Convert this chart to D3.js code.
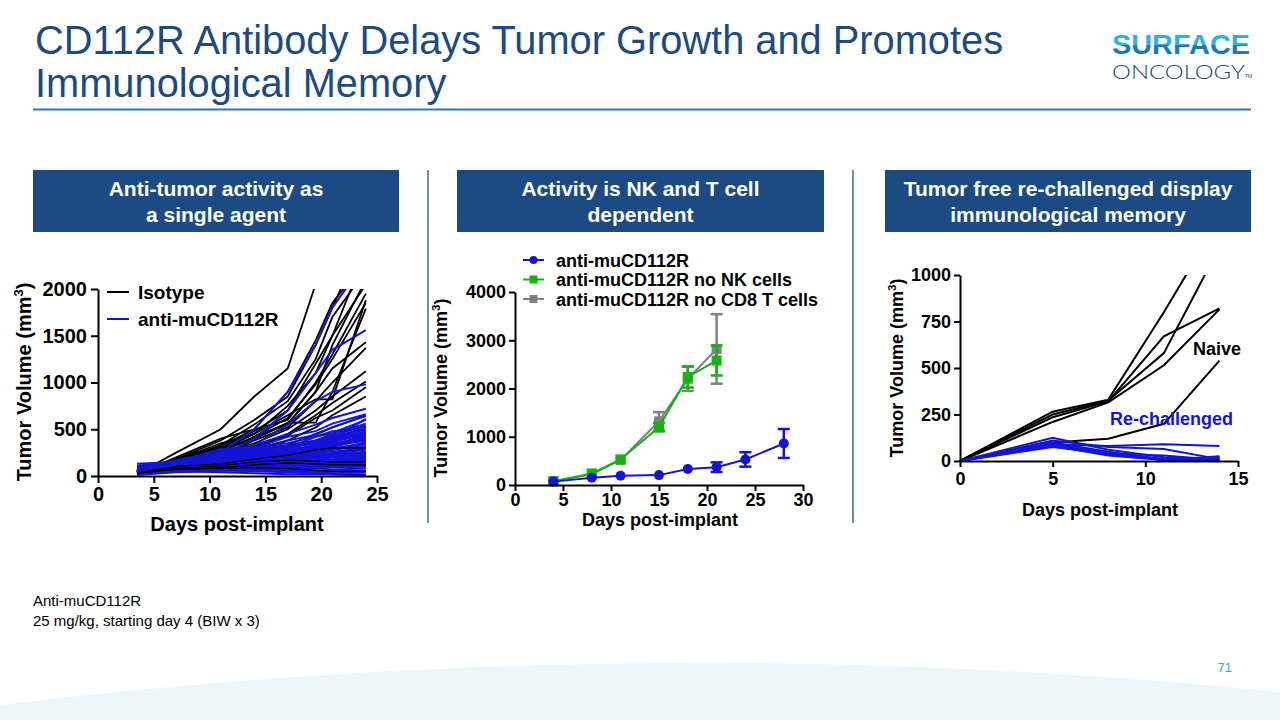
<!DOCTYPE html>
<html><head><meta charset="utf-8">
<script src="https://cdn.jsdelivr.net/npm/d3@7"></script>
<style>
html,body{margin:0;padding:0;background:#fff;}
svg{display:block;font-family:"Liberation Sans",Arial,sans-serif;}
</style></head>
<body>
<svg id="chart" width="1280" height="720"></svg>
<script>
// ---------------- DATA ----------------
const titleLines = ["CD112R Antibody Delays Tumor Growth and Promotes", "Immunological Memory"];
const panelTitles = [["Anti-tumor activity as", "a single agent"], ["Activity is NK and T cell", "dependent"], ["Tumor free re-challenged display", "immunological memory"]];
const footnote = ["Anti-muCD112R", "25 mg/kg, starting day 4 (BIW x 3)"];
const pageNumber = "71";

// Panel 1: individual tumour growth (spaghetti)
const p1Days = [3.5, 5, 7, 11, 14, 17, 19.5, 21, 24];
const p1XTicks = [0, 5, 10, 15, 20, 25];
const p1YTicks = [0, 500, 1000, 1500, 2000];
const isotypeLines = [
  [60,120,250,500,850,1150,2050,null,null],
  [50,110,180,380,600,850,1400,1800,2600],
  [55,100,160,300,480,700,1200,1500,2400],
  [45,90,150,330,550,800,1250,1700,2200],
  [50,100,200,400,500,600,1000,1300,1950],
  [40,95,170,350,450,650,820,820,1880],
  [45,85,140,270,400,570,570,900,1790],
  [50,90,150,250,420,560,900,1150,1430],
  [40,80,130,220,380,520,800,1000,1370],
  [35,75,120,240,350,500,700,850,1120],
  [45,85,130,200,300,450,650,780,1010],
  [40,70,120,210,320,430,620,700,950],
  [35,80,110,190,290,380,520,650,850],
  [30,70,100,170,250,330,450,520,650],
  [40,75,110,160,220,300,380,420,500],
  [30,60,90,140,200,250,320,380,450],
  [35,65,100,130,180,220,280,300,300],
  [30,60,80,110,150,170,160,150,150],
  [25,55,70,90,120,140,130,120,120],
  [30,50,70,80,90,80,60,50,50],
  [40,90,160,300,400,560,900,1400,2100],
  [45,95,180,320,500,900,1450,1850,2300],
  [50,100,150,280,450,750,1100,1500,2050],
  [35,80,140,260,420,620,980,1250,1850]
];
const treatedLines = [
  [60,110,150,250,500,900,1400,1800,2300],
  [50,100,140,220,400,700,1100,1350,1560],
  [40,90,130,200,330,550,800,900,980],
  [50,100,140,230,330,450,550,620,720],
  [40,80,120,260,300,420,480,560,660],
  [30,70,110,180,250,380,440,520,640],
  [45,90,130,170,230,300,420,460,600],
  [35,80,120,150,200,280,380,430,540],
  [50,95,140,290,310,350,420,480,520],
  [40,85,110,140,180,240,330,400,500],
  [30,70,100,130,170,220,300,380,480],
  [45,85,120,160,200,250,310,360,450],
  [35,75,100,130,160,200,280,340,420],
  [25,60,90,120,150,180,250,310,400],
  [40,80,110,150,190,230,270,320,380],
  [30,70,100,140,170,210,240,290,350],
  [50,90,120,170,200,220,250,280,320],
  [20,60,90,120,140,170,200,240,300],
  [35,75,100,130,150,180,210,240,280],
  [45,85,110,140,160,170,190,220,250],
  [25,55,80,100,120,150,170,200,220],
  [40,70,100,120,140,150,160,180,200],
  [30,65,90,110,120,130,140,160,180],
  [50,90,120,150,160,170,150,140,150],
  [20,50,70,90,100,110,120,130,120],
  [35,60,80,100,110,100,90,90,100],
  [45,80,100,110,100,90,80,70,80],
  [25,50,60,70,60,50,40,50,60],
  [30,55,70,60,50,40,30,30,40],
  [20,40,50,40,30,20,20,20,20],
  [40,70,90,80,70,60,50,30,10],
  [55,95,130,120,100,70,40,20,5],
  [60,110,150,180,210,260,300,350,380],
  [45,100,160,280,300,320,340,400,470],
  [35,90,140,200,260,300,360,420,500],
  [50,120,170,250,290,330,380,450,560],
  [40,100,150,220,270,310,350,400,430],
  [55,110,160,240,280,250,230,260,300],
  [30,70,130,180,200,210,220,230,240],
  [50,130,140,160,180,190,200,210,230],
  [130,140,150,170,190,220,260,300,340],
  [100,120,140,160,180,200,240,280,360],
  [70,100,120,130,140,150,160,170,190],
  [80,110,130,150,170,190,210,230,260],
  [90,120,140,150,160,180,200,220,240],
  [110,130,150,160,170,180,190,200,210],
  [60,80,100,110,120,130,140,150,160],
  [20,40,60,80,100,120,140,160,170],
  [15,30,45,60,80,100,110,120,130],
  [10,25,40,55,70,80,90,100,110],
  [75,105,125,140,150,140,130,120,110],
  [85,115,135,160,190,230,270,330,410],
  [65,95,130,190,230,270,320,380,460],
  [95,125,150,200,240,280,330,390,530],
  [50,80,110,150,200,260,320,400,610],
  [40,75,105,140,170,210,260,330,440],
  [30,45,55,65,75,85,95,105,115]
];
const p1Legend = ["Isotype", "anti-muCD112R"];

// Panel 2: group means +/- SEM
const p2XTicks = [0, 5, 10, 15, 20, 25, 30];
const p2YTicks = [0, 1000, 2000, 3000, 4000];
const p2Names = ["anti-muCD112R", "anti-muCD112R no NK cells", "anti-muCD112R no CD8 T cells"];
const p2DaysBlue = [4, 8, 11, 15, 18, 21, 24, 28];
const p2MeanBlue = [70, 150, 190, 205, 330, 370, 530, 860];
const p2ErrBlue  = [10, 15, 20, 25, 40, 100, 150, 300];
const p2DaysGreen = [4, 8, 11, 15, 18, 21];
const p2MeanGreen = [80, 240, 530, 1200, 2240, 2580];
const p2ErrGreen  = [10, 30, 50, 90, 220, 310];
const p2DaysGray = [4, 8, 11, 15, 18, 21];
const p2MeanGray = [75, 220, 520, 1320, 2200, 2820];
const p2ErrGray  = [10, 30, 50, 190, 250, 720];

// Panel 3: re-challenge
const p3Days = [0, 5, 8, 11, 14];
const p3XTicks = [0, 5, 10, 15];
const p3YTicks = [0, 250, 500, 750, 1000];
const naiveLines = [
  [0,265,330,800,1300],
  [0,250,325,580,1150],
  [0,235,320,670,820],
  [0,210,315,515,815],
  [0,100,120,200,540]
];
const rechallengedLines = [
  [0,90,80,90,80],
  [0,110,75,65,10],
  [0,100,50,10,20],
  [0,90,35,5,25],
  [0,80,30,5,5],
  [0,125,60,20,10],
  [0,95,40,10,15],
  [0,75,40,30,5]
];
const p3Labels = ["Naive", "Re-challenged"];

// ---------------- DRAW ----------------
const svg = d3.select("#chart");
const FONT = "'Liberation Sans', Arial, sans-serif";
const NAVY = "#1c4a82";
const BLUE = "#1414d8";
const GREEN = "#12b312";
const GRAY = "#808080";
const fmt = d3.format("d");

// footer wave
svg.append("path")
  .attr("d", "M0,705 Q640,628 1280,692 L1280,720 L0,720 Z")
  .attr("fill", "#edf7fb");

// title
svg.selectAll("text.title").data(titleLines).join("text")
  .attr("class", "title")
  .attr("x", 35).attr("y", (d, i) => 54 + i * 43)
  .attr("fill", NAVY).attr("font-size", 39.8).attr("font-family", FONT)
  .text(d => d);
svg.append("line").attr("x1", 33).attr("x2", 1251).attr("y1", 109.5).attr("y2", 109.5)
  .attr("stroke", "#2f77b0").attr("stroke-width", 2);

// logo
const defs = svg.append("defs");
const lg = defs.append("linearGradient").attr("id", "logoGrad").attr("x1", 0).attr("x2", 0).attr("y1", 0).attr("y2", 1);
lg.append("stop").attr("offset", "0.5").attr("stop-color", "#2eb2e6");
lg.append("stop").attr("offset", "0.5").attr("stop-color", "#1a78c0");
svg.append("text").attr("x", 1112).attr("y", 54).attr("font-size", 27).attr("font-weight", "bold")
  .attr("font-family", FONT).attr("fill", "url(#logoGrad)")
  .attr("textLength", 138).attr("lengthAdjust", "spacingAndGlyphs").text("SURFACE");
svg.append("text").attr("x", 1112).attr("y", 78.5).attr("font-size", 20)
  .attr("font-family", "Lato, 'Liberation Sans', sans-serif").attr("font-weight", 300).attr("fill", "#1c3f78")
  .attr("textLength", 133).attr("lengthAdjust", "spacingAndGlyphs").text("ONCOLOGY");
svg.append("text").attr("x", 1245).attr("y", 78).attr("font-size", 5).attr("font-family", FONT).attr("fill", "#1c3f78").text("TM");

// panel header boxes
const boxes = [{x: 33, w: 366}, {x: 457, w: 367}, {x: 885, w: 366}];
boxes.forEach((b, i) => {
  svg.append("rect").attr("x", b.x).attr("y", 170).attr("width", b.w).attr("height", 62).attr("fill", NAVY);
  panelTitles[i].forEach((t, j) => {
    svg.append("text").attr("x", b.x + b.w / 2).attr("y", 196 + j * 26)
      .attr("text-anchor", "middle").attr("fill", "#fff").attr("font-weight", "bold")
      .attr("font-size", 21).attr("font-family", FONT).text(t);
  });
});
// separators
[428, 853].forEach(x => {
  svg.append("line").attr("x1", x).attr("x2", x).attr("y1", 170).attr("y2", 523)
    .attr("stroke", "#3c6a9a").attr("stroke-width", 1.5);
});

// footnote + page
footnote.forEach((t, i) => {
  svg.append("text").attr("x", 33).attr("y", 606 + i * 20).attr("font-size", 15)
    .attr("font-family", FONT).attr("fill", "#000").text(t);
});
svg.append("text").attr("x", 1232).attr("y", 672).attr("text-anchor", "end").attr("font-size", 13)
  .attr("font-family", FONT).attr("fill", "#3ea3d6").text(pageNumber);

// helpers
function styleAxis(g, fs) {
  g.select(".domain").attr("stroke", "#000").attr("stroke-width", 2);
  g.selectAll(".tick line").attr("stroke", "#000").attr("stroke-width", 2);
  g.selectAll(".tick text").attr("font-size", fs).attr("font-weight", "bold")
    .attr("font-family", FONT).attr("fill", "#000");
}
function yLabel(cx, cy, fs) {
  const t = svg.append("text").attr("transform", `translate(${cx},${cy}) rotate(-90)`)
    .attr("text-anchor", "middle").attr("font-size", fs).attr("font-weight", "bold")
    .attr("font-family", FONT).attr("fill", "#000");
  t.append("tspan").text("Tumor Volume (mm");
  t.append("tspan").attr("font-size", fs * 0.65).attr("dy", -fs * 0.4).text("3");
  t.append("tspan").attr("dy", fs * 0.4).text(")");
}
function xLabel(cx, y, fs) {
  svg.append("text").attr("x", cx).attr("y", y).attr("text-anchor", "middle")
    .attr("font-size", fs).attr("font-weight", "bold").attr("font-family", FONT)
    .attr("fill", "#000").text("Days post-implant");
}

// ---------- Panel 1 ----------
const x1 = d3.scaleLinear([0, 25], [98, 377]);
const y1 = d3.scaleLinear([0, 2000], [476, 289]);
defs.append("clipPath").attr("id", "clip1").append("rect")
  .attr("x", 98).attr("y", 289).attr("width", 282).attr("height", 188);
const line1 = d3.line().defined(d => d[1] != null).x(d => x1(d[0])).y(d => y1(d[1]));
const g1 = svg.append("g").attr("clip-path", "url(#clip1)");
g1.selectAll("path.iso").data(isotypeLines).join("path").attr("class", "iso")
  .attr("d", v => line1(v.map((val, i) => [p1Days[i], val])))
  .attr("fill", "none").attr("stroke", "#000").attr("stroke-width", 1.8);
g1.selectAll("path.trt").data(treatedLines).join("path").attr("class", "trt")
  .attr("d", v => line1(v.map((val, i) => [p1Days[i], val])))
  .attr("fill", "none").attr("stroke", BLUE).attr("stroke-width", 2);
g1.selectAll("path.iso2").data(isotypeLines.slice(16, 20)).join("path").attr("class", "iso2")
  .attr("d", v => line1(v.map((val, i) => [p1Days[i], val])))
  .attr("fill", "none").attr("stroke", "#000").attr("stroke-width", 1.2);

const ax1 = svg.append("g").attr("transform", "translate(98,0)")
  .call(d3.axisLeft(y1).tickValues(p1YTicks).tickFormat(fmt).tickSize(7).tickPadding(4).tickSizeOuter(0));
styleAxis(ax1, 20);
const bx1 = svg.append("g").attr("transform", "translate(0,476)")
  .call(d3.axisBottom(x1).tickValues(p1XTicks).tickFormat(fmt).tickSize(7).tickPadding(4).tickSizeOuter(0));
styleAxis(bx1, 20);
yLabel(31, 382, 20);
xLabel(237, 531, 20);
p1Legend.forEach((t, i) => {
  const yy = 292 + i * 27;
  svg.append("line").attr("x1", 107).attr("x2", 129).attr("y1", yy).attr("y2", yy)
    .attr("stroke", i === 0 ? "#000" : BLUE).attr("stroke-width", 2);
  svg.append("text").attr("x", 138).attr("y", yy + 7).attr("font-size", 19).attr("font-weight", "bold")
    .attr("font-family", FONT).attr("fill", "#000").text(t);
});

// ---------- Panel 2 ----------
const x2 = d3.scaleLinear([0, 30], [515, 803]);
const y2 = d3.scaleLinear([0, 4000], [485, 292]);
const line2 = d3.line().x(d => x2(d[0])).y(d => y2(d[1]));
const series2 = [
  {days: p2DaysGray, mean: p2MeanGray, err: p2ErrGray, color: GRAY, shape: "square"},
  {days: p2DaysGreen, mean: p2MeanGreen, err: p2ErrGreen, color: GREEN, shape: "square"},
  {days: p2DaysBlue, mean: p2MeanBlue, err: p2ErrBlue, color: BLUE, shape: "circle"}
];
series2.forEach(s => {
  const pts = s.days.map((d, i) => [d, s.mean[i], s.err[i]]);
  const g = svg.append("g");
  g.append("path").attr("d", line2(pts)).attr("fill", "none").attr("stroke", s.color).attr("stroke-width", 2);
  pts.forEach(p => {
    const cx = x2(p[0]);
    const top = y2(p[1] + p[2]), bot = y2(p[1] - p[2]);
    g.append("line").attr("x1", cx).attr("x2", cx).attr("y1", top).attr("y2", bot).attr("stroke", s.color).attr("stroke-width", 2.5);
    if (bot - top > 8) {
      [top, bot].forEach(yy => g.append("line").attr("x1", cx - 6).attr("x2", cx + 6).attr("y1", yy).attr("y2", yy)
        .attr("stroke", s.color).attr("stroke-width", 2.5));
    }
    if (s.shape === "circle") {
      g.append("circle").attr("cx", cx).attr("cy", y2(p[1])).attr("r", 5).attr("fill", s.color);
    } else {
      g.append("rect").attr("x", cx - 5).attr("y", y2(p[1]) - 5).attr("width", 10).attr("height", 10).attr("fill", s.color);
    }
  });
});
const ax2 = svg.append("g").attr("transform", "translate(515,0)")
  .call(d3.axisLeft(y2).tickValues(p2YTicks).tickFormat(fmt).tickSize(6).tickPadding(3).tickSizeOuter(0));
styleAxis(ax2, 18);
const bx2 = svg.append("g").attr("transform", "translate(0,485)")
  .call(d3.axisBottom(x2).tickValues(p2XTicks).tickFormat(fmt).tickSize(6).tickPadding(2).tickSizeOuter(0));
styleAxis(bx2, 18);
yLabel(447, 388, 18);
xLabel(660, 526, 18);
const legCols = [BLUE, GREEN, GRAY];
p2Names.forEach((t, i) => {
  const yy = 260 + i * 19.5;
  svg.append("line").attr("x1", 523).attr("x2", 544).attr("y1", yy).attr("y2", yy)
    .attr("stroke", legCols[i]).attr("stroke-width", 2);
  if (i === 0) svg.append("circle").attr("cx", 533.5).attr("cy", yy).attr("r", 4).attr("fill", legCols[i]);
  else svg.append("rect").attr("x", 529.5).attr("y", yy - 4).attr("width", 8).attr("height", 8).attr("fill", legCols[i]);
  svg.append("text").attr("x", 556).attr("y", yy + 6.5).attr("font-size", 18).attr("font-weight", "bold")
    .attr("font-family", FONT).attr("fill", "#000").text(t);
});

// ---------- Panel 3 ----------
const x3 = d3.scaleLinear([0, 15], [960, 1238]);
const y3 = d3.scaleLinear([0, 1000], [461, 275]);
defs.append("clipPath").attr("id", "clip3").append("rect")
  .attr("x", 958).attr("y", 275).attr("width", 290).attr("height", 190);
const line3 = d3.line().x(d => x3(d[0])).y(d => y3(d[1]));
const g3 = svg.append("g").attr("clip-path", "url(#clip3)");
g3.selectAll("path.naive").data(naiveLines).join("path").attr("class", "naive")
  .attr("d", v => line3(v.map((val, i) => [p3Days[i], val])))
  .attr("fill", "none").attr("stroke", "#000").attr("stroke-width", 2);
g3.selectAll("path.rech").data(rechallengedLines).join("path").attr("class", "rech")
  .attr("d", v => line3(v.map((val, i) => [p3Days[i], val])))
  .attr("fill", "none").attr("stroke", BLUE).attr("stroke-width", 2);
const ax3 = svg.append("g").attr("transform", "translate(960,0)")
  .call(d3.axisLeft(y3).tickValues(p3YTicks).tickFormat(fmt).tickSize(6).tickPadding(3).tickSizeOuter(0));
styleAxis(ax3, 18);
const bx3 = svg.append("g").attr("transform", "translate(0,461)")
  .call(d3.axisBottom(x3).tickValues(p3XTicks).tickFormat(fmt).tickSize(6).tickPadding(5).tickSizeOuter(0));
styleAxis(bx3, 18);
yLabel(903, 368, 18);
xLabel(1100, 516, 18);
svg.append("text").attr("x", 1193).attr("y", 355).attr("font-size", 18).attr("font-weight", "bold")
  .attr("font-family", FONT).attr("fill", "#000").text(p3Labels[0]);
svg.append("text").attr("x", 1110).attr("y", 425).attr("font-size", 18).attr("font-weight", "bold")
  .attr("font-family", FONT).attr("fill", BLUE).text(p3Labels[1]);
</script>
</body></html>
